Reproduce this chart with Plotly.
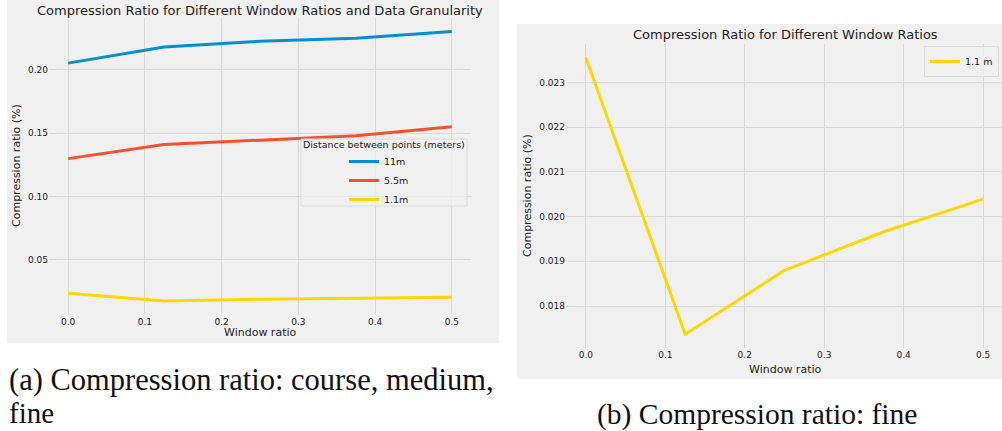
import plotly.graph_objects as go

# ---- data -------------------------------------------------------------
window_ratio = [0.0, 0.125, 0.25, 0.375, 0.5]
ratio_11m = [0.2052, 0.2179, 0.2225, 0.2248, 0.2302]
ratio_5_5m = [0.1298, 0.1410, 0.1444, 0.1479, 0.1550]
ratio_1_1m = [0.02355, 0.01737, 0.01880, 0.01966, 0.02039]
series_names = ["11m", "5.5m", "1.1m"]
fine_name = "1.1 m"
x_ticks = [0.0, 0.1, 0.2, 0.3, 0.4, 0.5]
left_y_ticks = [0.05, 0.10, 0.15, 0.20]
right_y_ticks = [0.018, 0.019, 0.020, 0.021, 0.022, 0.023]

# ---- style --------------------------------------------------------------
W, H = 1002, 431
BG = "#f0f0f0"
GRID = "#d8d8d8"
TXT = "#222222"
SANS = "DejaVu Sans"
SERIF = "Liberation Serif"
COLORS = ["#008fd5", "#fc4f30", "#ffd700"]
LW = 3.0


def px(x):
    return x / W


def py(y):
    return 1 - y / H


def padded(vals, frac=0.05):
    lo, hi = min(vals), max(vals)
    pad = (hi - lo) * frac
    return [lo - pad, hi + pad]


fig = go.Figure()

# left panel: three granularities
for vals, name, col in zip([ratio_11m, ratio_5_5m, ratio_1_1m], series_names, COLORS):
    fig.add_trace(go.Scatter(
        x=window_ratio, y=vals, name=name, mode="lines",
        line=dict(color=col, width=LW), xaxis="x", yaxis="y", legend="legend",
    ))

# right panel: fine granularity only
fig.add_trace(go.Scatter(
    x=window_ratio, y=ratio_1_1m, name=fine_name, mode="lines",
    line=dict(color=COLORS[2], width=LW), xaxis="x2", yaxis="y2", legend="legend2",
))

axis_common = dict(
    showgrid=True, gridcolor=GRID, gridwidth=1, zeroline=False,
    showline=False, ticks="", tickfont=dict(family=SANS, size=9, color=TXT),
)

left_x = [49, 471]
left_y = [18, 314.5]
right_x = [566, 1002]
right_y = [44, 348]

x_span = 0.55
right_x_hi = -0.025 + x_span * (right_x[1] - right_x[0]) / 437.0

fig.update_layout(
    width=W, height=H,
    margin=dict(l=0, r=0, t=0, b=0),
    paper_bgcolor="white",
    plot_bgcolor=BG,
    font=dict(family=SANS, color=TXT),
    xaxis=dict(domain=[px(left_x[0]), px(left_x[1])], range=[-0.025, 0.525],
               tickvals=x_ticks, tickformat=".1f", anchor="y", **axis_common),
    yaxis=dict(domain=[py(left_y[1]), py(left_y[0])],
               range=padded(ratio_11m + ratio_5_5m + ratio_1_1m),
               tickvals=left_y_ticks, tickformat=".2f", anchor="x", **axis_common),
    xaxis2=dict(domain=[px(right_x[0]), px(right_x[1])], range=[-0.025, right_x_hi],
                tickvals=x_ticks, tickformat=".1f", anchor="y2", **axis_common),
    yaxis2=dict(domain=[py(right_y[1]), py(right_y[0])], range=padded(ratio_1_1m),
                tickvals=right_y_ticks, tickformat=".3f", anchor="x2", **axis_common),
    legend=dict(x=px(344), y=py(147), xanchor="left", yanchor="top",
                bgcolor="rgba(0,0,0,0)", borderwidth=0,
                font=dict(family=SANS, size=9.5, color=TXT), tracegroupgap=0),
    legend2=dict(x=px(999), y=py(46), xanchor="right", yanchor="top",
                 bgcolor="rgba(240,240,240,0.8)", bordercolor="#dcdcdc", borderwidth=1,
                 font=dict(family=SANS, size=9.5, color=TXT)),
    showlegend=True,
)

# panel backgrounds
shapes = [
    dict(type="rect", xref="paper", yref="paper", x0=px(7), x1=px(499), y0=py(343), y1=py(0),
         fillcolor=BG, line=dict(width=0), layer="below"),
    dict(type="rect", xref="paper", yref="paper", x0=px(517), x1=px(1002), y0=py(379), y1=py(24),
         fillcolor=BG, line=dict(width=0), layer="below"),
    # legend frame for the left panel
    dict(type="rect", xref="paper", yref="paper", x0=px(301), x1=px(467), y0=py(206), y1=py(139),
         fillcolor="rgba(240,240,240,0.8)", line=dict(color="#dcdcdc", width=1), layer="above"),
]
fig.update_layout(shapes=shapes)


def note(text, x, y, size, family=SANS, xanchor="center", angle=0, color=TXT):
    return dict(text=text, x=px(x), y=py(y), xref="paper", yref="paper",
                xanchor=xanchor, yanchor="middle", showarrow=False, textangle=angle,
                font=dict(family=family, size=size, color=color))


annotations = [
    note("Compression Ratio for Different Window Ratios and Data Granularity", 260, 10, 13),
    note("Compression Ratio for Different Window Ratios", 785, 35, 13),
    note("Window ratio", 260, 332, 11),
    note("Window ratio", 785, 369, 11),
    note("Compression ratio (%)", 17, 166, 11, angle=-90),
    note("Compression ratio (%)", 527, 196, 11, angle=-90),
    note("Distance between points (meters)", 384, 145, 9.5),
    note("(a) Compression ratio: course, medium,", 7, 380, 30.5, family=SERIF, xanchor="left", color="#111"),
    note("fine", 7, 413, 29, family=SERIF, xanchor="left", color="#111"),
    note("(b) Compression ratio: fine", 757, 414, 29.5, family=SERIF, color="#111"),
]
fig.update_layout(annotations=annotations)

fig.write_html("out.html")
